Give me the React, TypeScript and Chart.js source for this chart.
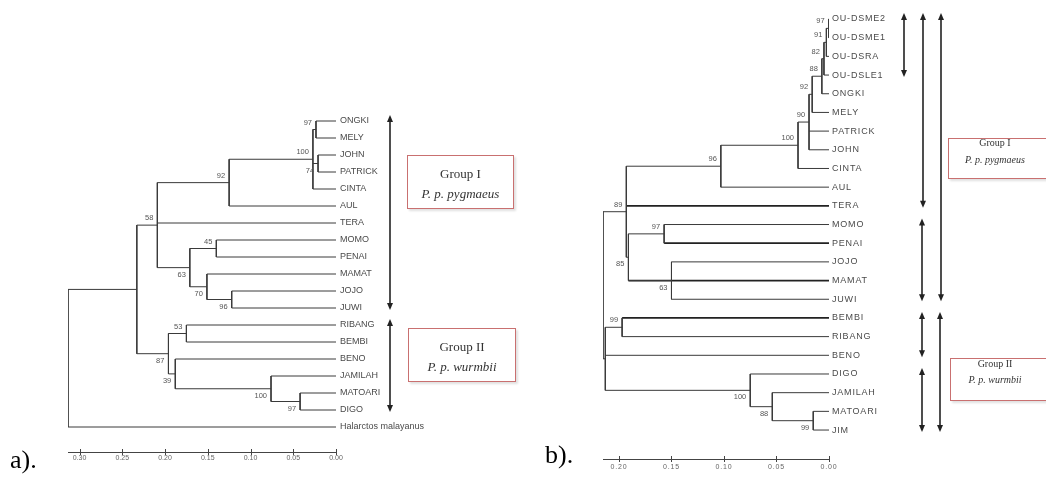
import React, { useEffect, useRef } from "react";
import { Chart, registerables } from "chart.js";
Chart.register(...registerables);

// ---------- Panel a ----------
const leavesA = ["ONGKI", "MELY", "JOHN", "PATRICK", "CINTA", "AUL", "TERA", "MOMO", "PENAI", "MAMAT", "JOJO", "JUWI", "RIBANG", "BEMBI", "BENO", "JAMILAH", "MATOARI", "DIGO", "Halarctos malayanus"];
const nodeIdsA = ["a1", "a2", "a3", "a4", "a5", "a6", "a7", "a8", "a9", "a10", "a11", "a12", "a13", "a14", "a15", "a16"];
const nodeHeightsA = [0.0234, 0.021, 0.027, 0.125, 0.14, 0.122, 0.151, 0.171, 0.209, 0.175, 0.042, 0.076, 0.188, 0.196, 0.233, 0.3135];
const nodeChildrenA = [
  ["ONGKI", "MELY"], ["JOHN", "PATRICK"], ["a1", "a2", "CINTA"], ["a3", "AUL"],
  ["MOMO", "PENAI"], ["JOJO", "JUWI"], ["MAMAT", "a6"], ["a5", "a7"], ["a4", "TERA", "a8"],
  ["RIBANG", "BEMBI"], ["MATOARI", "DIGO"], ["JAMILAH", "a11"], ["BENO", "a12"], ["a10", "a13"],
  ["a9", "a14"], ["a15", "Halarctos malayanus"],
];
const nodeSupportA = [97, 74, 100, 92, 45, 96, 70, 63, 58, 53, 97, 100, 39, 87, null, null];
const xTicksA = [0, 0.05, 0.1, 0.15, 0.2, 0.25, 0.3];
const arrowFromA = ["ONGKI", "RIBANG"];
const arrowToA = ["JUWI", "DIGO"];

// ---------- Panel b ----------
const leavesB = ["OU-DSME2", "OU-DSME1", "OU-DSRA", "OU-DSLE1", "ONGKI", "MELY", "PATRICK", "JOHN", "CINTA", "AUL", "TERA", "MOMO", "PENAI", "JOJO", "MAMAT", "JUWI", "BEMBI", "RIBANG", "BENO", "DIGO", "JAMILAH", "MATOARI", "JIM"];
const nodeIdsB = ["b1", "b2", "b3", "b4", "b5", "b6", "b7", "b8", "b9", "b10", "b11", "b12", "b13", "b14", "b15", "b16", "b17", "b18"];
const nodeHeightsB = [0.0003, 0.0025, 0.0048, 0.0068, 0.016, 0.019, 0.0295, 0.103, 0.157, 0.15, 0.191, 0.193, 0.197, 0.015, 0.054, 0.075, 0.213, 0.2152];
const nodeChildrenB = [
  ["OU-DSME2", "OU-DSME1"], ["b1", "OU-DSRA"], ["b2", "OU-DSLE1"], ["b3", "ONGKI"], ["b4", "MELY"],
  ["b5", "PATRICK", "JOHN"], ["b6", "CINTA"], ["b7", "AUL"], ["MOMO", "PENAI"], ["JOJO", "JUWI"],
  ["b9", "MAMAT", "b10"], ["b8", "TERA", "b11"], ["BEMBI", "RIBANG"], ["MATOARI", "JIM"],
  ["JAMILAH", "b14"], ["DIGO", "b15"], ["b13", "BENO", "b16"], ["b12", "b17"],
];
const nodeSupportB = [97, 91, 82, 88, 92, 90, 100, 96, 97, 63, 85, 89, 99, 99, 88, 100, null, null];
const xTicksB = [0, 0.05, 0.1, 0.15, 0.2];
const arrowFromB = ["OU-DSME2", "OU-DSME2", "OU-DSME2", "MOMO", "BEMBI", "BEMBI", "DIGO"];
const arrowToB = ["OU-DSLE1", "TERA", "JUWI", "JUWI", "BENO", "JIM", "JIM"];

// ---------- styles ----------
const SANS = '"Liberation Sans", Arial, sans-serif';
const SERIF = '"Liberation Serif", "Times New Roman", serif';
const LINE = "#3a3a3a";
const LABEL = "#4a4a4a";

type P = { x: number; y: number };

function buildTree(leaves: string[], ids: string[], heights: number[], children: string[][], thick: string[]) {
  const pos: Record<string, P> = {};
  leaves.forEach((l, i) => (pos[l] = { x: 0, y: i }));
  const thin: any[] = [];
  const bold: any[] = [];
  const gap = { x: null, y: null };
  ids.forEach((id, k) => {
    const h = heights[k];
    const ch = children[k];
    const ys = ch.map((c) => pos[c].y);
    const y0 = Math.min(...ys);
    const y1 = Math.max(...ys);
    thin.push({ x: h, y: y0 }, { x: h, y: y1 }, gap);
    ch.forEach((c) => {
      const p = pos[c];
      const target = thick.includes(c) ? bold : thin;
      target.push({ x: h, y: p.y }, { x: p.x, y: p.y }, gap);
    });
    pos[id] = { x: h, y: (y0 + y1) / 2 };
  });
  return { thin, bold, pos };
}

function drawArrow(ctx: CanvasRenderingContext2D, x: number, y0: number, y1: number) {
  ctx.strokeStyle = "#222";
  ctx.fillStyle = "#222";
  ctx.lineWidth = 1.6;
  ctx.beginPath();
  ctx.moveTo(x, y0 + 4);
  ctx.lineTo(x, y1 - 4);
  ctx.stroke();
  ctx.beginPath();
  ctx.moveTo(x, y0);
  ctx.lineTo(x - 3, y0 + 7);
  ctx.lineTo(x + 3, y0 + 7);
  ctx.closePath();
  ctx.fill();
  ctx.beginPath();
  ctx.moveTo(x, y1);
  ctx.lineTo(x - 3, y1 - 7);
  ctx.lineTo(x + 3, y1 - 7);
  ctx.closePath();
  ctx.fill();
}

function makeChart(canvas: HTMLCanvasElement, p: any) {
  const { thin, bold, pos } = buildTree(p.leaves, p.ids, p.heights, p.children, p.thick);
  const overlay = {
    id: "overlay" + p.key,
    beforeDraw(chart: any) {
      chart.ctx.letterSpacing = p.letterSpacing;
    },
    afterDraw(chart: any) {
      const { ctx, chartArea } = chart;
      const xs = chart.scales.x;
      const ys = chart.scales.y;
      ctx.save();
      ctx.letterSpacing = "0px";
      // tick marks across the axis
      ctx.strokeStyle = "#444";
      ctx.lineWidth = 1;
      xs.ticks.forEach((t: any) => {
        const px = Math.round(xs.getPixelForValue(t.value)) + 0.5;
        ctx.beginPath();
        ctx.moveTo(px, chartArea.bottom - 3);
        ctx.lineTo(px, chartArea.bottom + 3);
        ctx.stroke();
      });
      // bootstrap values
      ctx.font = `${p.supportSize}px ${SANS}`;
      ctx.fillStyle = "#555";
      ctx.textAlign = "right";
      ctx.textBaseline = "middle";
      p.ids.forEach((id: string, k: number) => {
        const s = p.support[k];
        if (s == null) return;
        const n = pos[id];
        const px = xs.getPixelForValue(n.x) - 4;
        const py = ys.getPixelForValue(n.y) + (p.below.includes(id) ? 7 : -7);
        ctx.fillText(String(s), px, py);
      });
      // group arrows
      p.arrowFrom.forEach((from: string, i: number) => {
        const to = p.arrowTo[i];
        const x = chartArea.right + p.arrowCols[i];
        const y0 = ys.getPixelForValue(p.leaves.indexOf(from)) - 6;
        const y1 = ys.getPixelForValue(p.leaves.indexOf(to)) + 2;
        drawArrow(ctx, x, y0, y1);
      });
      ctx.restore();
    },
  };
  return new Chart(canvas, {
    type: "scatter",
    data: {
      datasets: [
        { data: thin, showLine: true, spanGaps: false, borderColor: LINE, borderWidth: 1, pointRadius: 0, pointHoverRadius: 0, tension: 0 },
        { data: bold, showLine: true, spanGaps: false, borderColor: "#222", borderWidth: 1.8, pointRadius: 0, pointHoverRadius: 0, tension: 0 },
      ],
    },
    options: {
      animation: false,
      responsive: false,
      devicePixelRatio: 1,
      events: [],
      layout: { padding: { left: p.padL, top: p.padT, right: p.padR, bottom: p.padB } },
      plugins: { legend: { display: false }, tooltip: { enabled: false } },
      scales: {
        x: {
          type: "linear",
          reverse: true,
          min: 0,
          max: p.xMax,
          position: "bottom",
          afterFit: (s: any) => {
            s.height = p.xAxisH;
            s.paddingLeft = 0;
            s.paddingRight = 0;
          },
          afterBuildTicks: (s: any) => {
            s.ticks = p.xTicks.map((v: number) => ({ value: v }));
          },
          grid: { display: false, drawTicks: false },
          border: { display: true, color: "#444", width: 1 },
          ticks: {
            padding: p.xTickPad,
            autoSkip: false,
            maxRotation: 0,
            color: "#666",
            font: { family: SANS, size: 7 },
            callback: (v: any) => Number(v).toFixed(2),
          },
        },
        y: {
          type: "linear",
          reverse: true,
          min: p.yMin,
          max: p.yMax,
          position: "right",
          afterFit: (s: any) => {
            s.width = p.yAxisW;
            s.paddingTop = 0;
            s.paddingBottom = 0;
          },
          afterBuildTicks: (s: any) => {
            s.ticks = p.leaves.map((_: string, i: number) => ({ value: i }));
          },
          grid: { display: false, drawTicks: false },
          border: { display: false },
          ticks: {
            padding: p.labelPad,
            autoSkip: false,
            color: LABEL,
            font: { family: SANS, size: p.labelSize },
            callback: (v: any) => p.leaves[v] ?? "",
          },
        },
      },
    } as any,
    plugins: [overlay],
  });
}

const panelA = {
  key: "a", leaves: leavesA, ids: nodeIdsA, heights: nodeHeightsA, children: nodeChildrenA, support: nodeSupportA,
  below: ["a2", "a6", "a7", "a8", "a11", "a12", "a13", "a14"], thick: [] as string[],
  xTicks: xTicksA, xMax: 0.3135, yMin: -1, yMax: 19.47,
  arrowFrom: arrowFromA, arrowTo: arrowToA, arrowCols: [54, 54],
  padL: 68, padT: 104, padR: 520 - 336 - 150, padB: 477 - 452 - 16, yAxisW: 150, xAxisH: 16,
  labelPad: 4, labelSize: 9, supportSize: 7.5, xTickPad: 2, letterSpacing: "0px",
};

const panelB = {
  key: "b", leaves: leavesB, ids: nodeIdsB, heights: nodeHeightsB, children: nodeChildrenB, support: nodeSupportB,
  below: ["b10", "b11", "b14", "b15", "b16"], thick: ["TERA", "PENAI", "MAMAT", "BEMBI"],
  xTicks: xTicksB, xMax: 0.2152, yMin: -0.482, yMax: 23.55,
  arrowFrom: arrowFromB, arrowTo: arrowToB, arrowCols: [75, 94, 112, 93, 93, 111, 93],
  padL: 83, padT: 10, padR: 526 - 309 - 120, padB: 477 - 459 - 18, yAxisW: 120, xAxisH: 18,
  labelPad: 3, labelSize: 9, supportSize: 7.5, xTickPad: 4, letterSpacing: "0.8px",
};

function GroupBox(props: { left: number; top: number; width: number; height: number; cx: number; l1: string; l2: string; y1: number; y2: number; size: number }) {
  const { left, top, width, height, cx, l1, l2, y1, y2, size } = props;
  const lineStyle = (y: number, italic: boolean): React.CSSProperties => ({
    position: "absolute", left: cx - 70, width: 140, top: y - 8, lineHeight: "16px", textAlign: "center",
    fontFamily: SERIF, fontSize: size, color: "#333", fontStyle: italic ? "italic" : "normal", whiteSpace: "nowrap",
  });
  return (
    <>
      <div style={{ position: "absolute", left, top, width, height, boxSizing: "border-box", border: "1.5px solid #c97070", background: "#fff", boxShadow: "2px 2px 2px rgba(0,0,0,0.12)" }} />
      <div style={lineStyle(y1, false)}>{l1}</div>
      <div style={lineStyle(y2, true)}>{l2}</div>
    </>
  );
}

export default function App() {
  const refA = useRef<HTMLCanvasElement>(null);
  const refB = useRef<HTMLCanvasElement>(null);
  useEffect(() => {
    const a = makeChart(refA.current!, panelA);
    const b = makeChart(refB.current!, panelB);
    return () => {
      a.destroy();
      b.destroy();
    };
  }, []);
  return (
    <div style={{ position: "fixed", left: 0, top: 0, width: 1046, height: 477, overflow: "hidden", background: "#fff" }}>
      <canvas ref={refA} width={520} height={477} style={{ position: "absolute", left: 0, top: 0 }} />
      <canvas ref={refB} width={526} height={477} style={{ position: "absolute", left: 520, top: 0 }} />
      <GroupBox left={407} top={155} width={107} height={54} cx={460.5} l1="Group I" l2="P. p. pygmaeus" y1={174} y2={194} size={13} />
      <GroupBox left={408} top={328} width={108} height={54} cx={462} l1="Group II" l2="P. p. wurmbii" y1={347} y2={367} size={13} />
      <GroupBox left={948} top={138} width={110} height={41} cx={995} l1="Group I" l2="P. p. pygmaeus" y1={143} y2={160} size={10} />
      <GroupBox left={950} top={358} width={110} height={43} cx={995} l1="Group II" l2="P. p. wurmbii" y1={364} y2={380} size={10} />
      <div style={{ position: "absolute", left: 10, top: 447, fontFamily: SERIF, fontSize: 26, lineHeight: "26px", color: "#000" }}>a).</div>
      <div style={{ position: "absolute", left: 545, top: 442, fontFamily: SERIF, fontSize: 26, lineHeight: "26px", color: "#000" }}>b).</div>
    </div>
  );
}
